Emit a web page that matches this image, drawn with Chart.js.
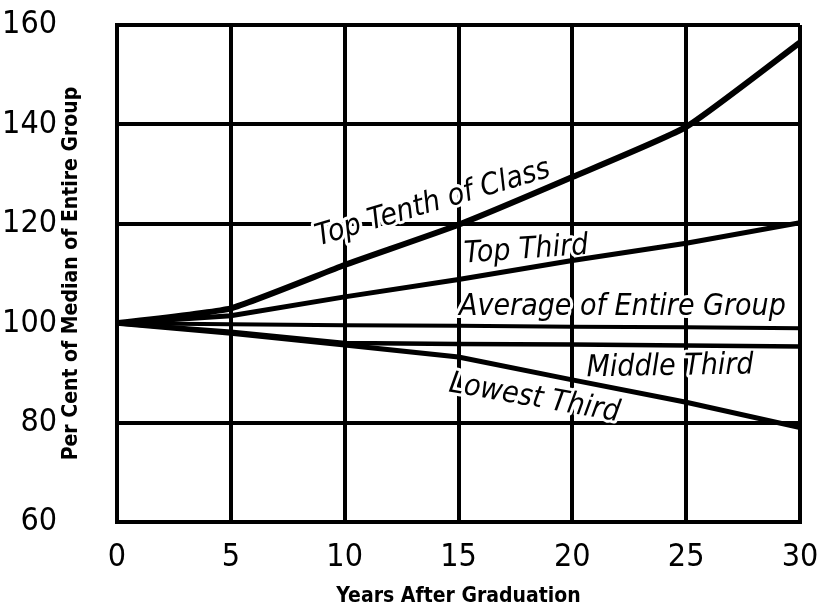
<!DOCTYPE html>
<html>
<head>
<meta charset="utf-8">
<title>Earnings by class standing</title>
<script src="https://cdn.jsdelivr.net/npm/chart.js@4.4.1/dist/chart.umd.min.js"></script>
<style>
    html, body { margin: 0; padding: 0; background: #fff; }
    #wrap { width: 822px; height: 612px; }
</style>
</head>
<body>
<div id="wrap"><canvas id="earningsChart" width="822" height="612"></canvas></div>
<script>
// 数据：毕业后年数与各组收入（占全体中位数的百分比）
const years = [0, 5, 10, 15, 20, 25, 30];
const topTenth = [100, 103, 111.7, 119.8, 129.4, 139.5, 156.5];
const topThird = [100, 101.5, 105.3, 108.8, 112.6, 116.1, 120.2];
const averageGroup = [100, 99.8, 99.6, 99.5, 99.3, 99.2, 99.0];
const middleThird = [100, 98.3, 96, 95.8, 95.7, 95.5, 95.3];
const lowestThird = [100, 98, 95.6, 93.2, 88.6, 84.1, 79];

const xTicks = [0, 5, 10, 15, 20, 25, 30];
const yTicks = [60, 80, 100, 120, 140, 160];

const seriesNames = ['Top Tenth of Class', 'Top Third', 'Average of Entire Group', 'Middle Third', 'Lowest Third'];

const tickFont = '"DejaVu Sans Condensed", "DejaVu Sans", sans-serif';
const noteFont = 'italic 30px "DejaVu Sans Condensed", "DejaVu Sans", sans-serif';

function toPoints(values) {
    return values.map((v, i) => ({ x: years[i], y: v }));
}

// 曲线旁的手写说明文字（数据坐标 + 旋转角度）
const notes = [
    { text: seriesNames[0], x: 13.97, y: 122.6, angle: -16.5 },
    { text: seriesNames[1], x: 18.0, y: 113.1, angle: -4 },
    { text: seriesNames[2], x: 22.2, y: 101.6, angle: 0 },
    { text: seriesNames[3], x: 24.3, y: 89.6, angle: -1 },
    { text: seriesNames[4], x: 18.27, y: 83.3, angle: 10 }
];

const notesPlugin = {
    id: 'curveNotes',
    beforeDatasetsDraw(chart) {
        const { ctx, scales } = chart;
        ctx.save();
        ctx.font = noteFont;
        ctx.textAlign = 'center';
        ctx.textBaseline = 'alphabetic';
        ctx.lineJoin = 'round';
        notes.forEach(n => {
            const px = scales.x.getPixelForValue(n.x);
            const py = scales.y.getPixelForValue(n.y);
            ctx.save();
            ctx.translate(px, py);
            ctx.rotate(n.angle * Math.PI / 180);
            // 白色描边把网格线挖空
            ctx.strokeStyle = '#fff';
            ctx.lineWidth = 6;
            ctx.strokeText(n.text, 0, 0);
            ctx.fillStyle = '#000';
            ctx.fillText(n.text, 0, 0);
            ctx.restore();
        });
        ctx.restore();
    }
};

function lineSet(label, values, width, tension) {
    return {
        label: label,
        data: toPoints(values),
        borderColor: '#000',
        borderWidth: width,
        pointRadius: 0,
        tension: tension,
        fill: false
    };
}

const ctx = document.getElementById('earningsChart').getContext('2d');

new Chart(ctx, {
    type: 'line',
    data: {
        datasets: [
            lineSet(seriesNames[0], topTenth, 6, 0.15),
            lineSet(seriesNames[1], topThird, 5, 0),
            lineSet(seriesNames[2], averageGroup, 4, 0),
            lineSet(seriesNames[3], middleThird, 4.5, 0),
            lineSet(seriesNames[4], lowestThird, 5, 0)
        ]
    },
    options: {
        responsive: false,
        animation: false,
        layout: {
            padding: { top: 25, right: 22, bottom: 0, left: 0 }
        },
        plugins: {
            legend: { display: false },
            tooltip: { enabled: false }
        },
        scales: {
            x: {
                type: 'linear',
                min: 0,
                max: 30,
                afterBuildTicks: axis => { axis.ticks = xTicks.map(v => ({ value: v })); },
                afterFit: axis => {
                    axis.height = 90;
                    axis.paddingLeft = 0;
                    axis.paddingRight = 0;
                },
                grid: {
                    color: '#000',
                    lineWidth: 4,
                    drawTicks: false
                },
                border: { display: true, color: '#000', width: 4 },
                ticks: {
                    color: '#000',
                    padding: 16,
                    maxRotation: 0,
                    font: { family: tickFont, size: 32 }
                },
                title: {
                    display: true,
                    text: 'Years After Graduation',
                    color: '#000',
                    font: { family: tickFont, size: 21, weight: 'bold' },
                    padding: { top: 0, bottom: 3 }
                }
            },
            y: {
                type: 'linear',
                min: 60,
                max: 160,
                afterBuildTicks: axis => { axis.ticks = yTicks.map(v => ({ value: v })); },
                afterFit: axis => {
                    axis.width = 117;
                    axis.paddingTop = 0;
                    axis.paddingBottom = 0;
                },
                grid: {
                    // 100 处由"全体平均"曲线代替网格线
                    color: c => (c.tick && c.tick.value === 100 ? 'rgba(0,0,0,0)' : '#000'),
                    lineWidth: 4,
                    drawTicks: false
                },
                border: { display: true, color: '#000', width: 4 },
                ticks: {
                    color: '#000',
                    padding: 60,
                    font: { family: tickFont, size: 32 }
                },
                title: {
                    display: true,
                    text: 'Per Cent of Median of Entire Group',
                    color: '#000',
                    font: { family: tickFont, size: 21, weight: 'bold' },
                    padding: { top: 59, bottom: 0 }
                }
            }
        }
    },
    plugins: [notesPlugin]
});
</script>
</body>
</html>
